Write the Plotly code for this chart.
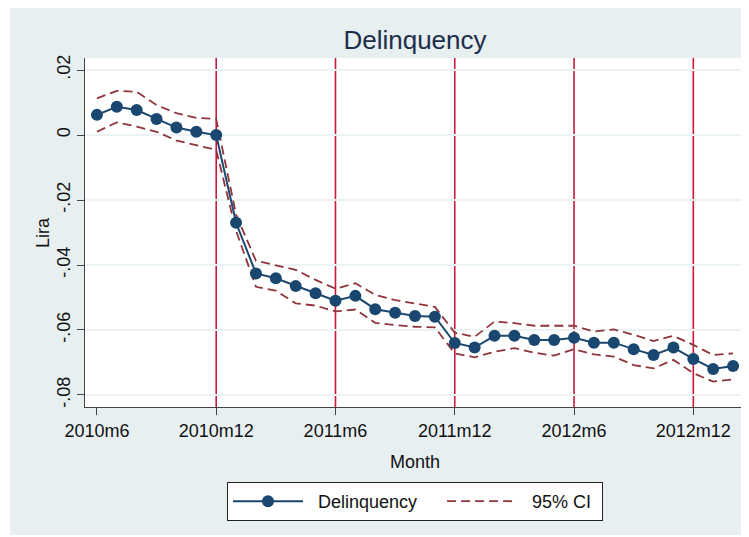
import plotly.graph_objects as go

# months 2010m6 .. 2013m2
months = [
    "2010m6", "2010m7", "2010m8", "2010m9", "2010m10", "2010m11", "2010m12",
    "2011m1", "2011m2", "2011m3", "2011m4", "2011m5", "2011m6", "2011m7",
    "2011m8", "2011m9", "2011m10", "2011m11", "2011m12", "2012m1", "2012m2",
    "2012m3", "2012m4", "2012m5", "2012m6", "2012m7", "2012m8", "2012m9",
    "2012m10", "2012m11", "2012m12", "2013m1", "2013m2",
]
estimate = [
    0.0062, 0.0087, 0.0077, 0.0049, 0.0023, 0.0010, 0.0000,
    -0.0270, -0.0426, -0.0441, -0.0465, -0.0487, -0.0510, -0.0495,
    -0.0536, -0.0547, -0.0557, -0.0559, -0.0640, -0.0654, -0.0618,
    -0.0618, -0.0631, -0.0631, -0.0624, -0.0639, -0.0639, -0.0659,
    -0.0677, -0.0654, -0.0689, -0.0720, -0.0711,
]
ci_upper = [
    0.0113, 0.0136, 0.0133, 0.0092, 0.0067, 0.0053, 0.0049,
    -0.0245, -0.0387, -0.0400, -0.0415, -0.0446, -0.0473, -0.0456,
    -0.0492, -0.0508, -0.0519, -0.0529, -0.0608, -0.0621, -0.0574,
    -0.0579, -0.0587, -0.0587, -0.0587, -0.0605, -0.0598, -0.0615,
    -0.0634, -0.0618, -0.0646, -0.0677, -0.0672,
]
ci_lower = [
    0.0010, 0.0039, 0.0026, 0.0010, -0.0017, -0.0031, -0.0046,
    -0.0295, -0.0467, -0.0479, -0.0518, -0.0525, -0.0543, -0.0537,
    -0.0578, -0.0585, -0.0590, -0.0592, -0.0672, -0.0684, -0.0667,
    -0.0656, -0.0670, -0.0679, -0.0659, -0.0675, -0.0682, -0.0708,
    -0.0718, -0.0692, -0.0733, -0.0759, -0.0752,
]
x_ticks = ["2010m6", "2010m12", "2011m6", "2011m12", "2012m6", "2012m12"]
y_ticks = [0.02, 0.0, -0.02, -0.04, -0.06, -0.08]
y_labels = [".02", "0", "-.02", "-.04", "-.06", "-.08"]
event_months = ["2010m12", "2011m6", "2011m12", "2012m6", "2012m12"]

NAVY = "#1a476f"
MAROON = "#90353b"
RED = "#c8193c"
BG = "#e8eff1"
FONT = "Liberation Sans, Arial, sans-serif"
NB = "\u00a0"

# plot area in figure pixels (page body adds an 8px margin)
L, R, T, B = 77, 737, 50, 399
W, H = 749, 537
PW, PH = R - L, B - T
CX = (407 - L) / PW  # horizontal centre of the graph region


def px(v):
    return (v - L) / PW


def py(v):
    return (B - v) / PH


x = list(range(len(months)))
tick_pos = [months.index(m) for m in x_ticks]

fig = go.Figure()
fig.add_trace(go.Scatter(x=x, y=ci_upper, mode="lines", name=NB * 2 + "95% CI" + NB,
                         legendgroup="ci",
                         line={"color": MAROON, "width": 1.8, "dash": "9px,5px"}))
fig.add_trace(go.Scatter(x=x, y=ci_lower, mode="lines", name="95% CI",
                         legendgroup="ci", showlegend=False,
                         line={"color": MAROON, "width": 1.8, "dash": "9px,5px"}))
fig.add_trace(go.Scatter(x=x, y=estimate, mode="lines+markers",
                         name=NB * 2 + "Delinquency" + NB * 4,
                         line={"color": NAVY, "width": 2},
                         marker={"color": NAVY, "size": 12}))

for m in event_months:
    fig.add_vline(x=months.index(m), line={"color": RED, "width": 1.6}, layer="below")
fig.add_hline(y=0, line={"color": RED, "width": 1.6}, layer="below")

# white frame around the grey graph region
for x0, x1, y0, y1 in [(0, 2, 0, H), (0, W, 527, H)]:
    fig.add_shape(type="rect", xref="paper", yref="paper",
                  x0=px(x0), x1=px(x1), y0=py(y1), y1=py(y0),
                  fillcolor="white", line={"width": 0}, layer="above")

fig.add_annotation(text="Month", x=CX, y=py(454), xref="paper", yref="paper",
                   showarrow=False, font={"size": 18}, yanchor="middle")
fig.add_annotation(text="Lira", x=px(35), y=py(225), xref="paper", yref="paper",
                   showarrow=False, font={"size": 18}, textangle=-90,
                   xanchor="center", yanchor="middle")

fig.update_layout(
    width=W, height=H,
    margin={"l": L, "r": W - R, "t": T, "b": H - B},
    paper_bgcolor=BG, plot_bgcolor="white",
    font={"family": FONT, "size": 18, "color": "#111111"},
    title={"text": "Delinquency", "x": CX, "xref": "paper",
           "xanchor": "center", "y": 1 - 32 / H, "yanchor": "middle",
           "font": {"size": 26, "color": "#1c2e4a"}},
    showlegend=True,
    legend={"orientation": "h", "x": CX, "xanchor": "center",
            "y": py(474), "yanchor": "top", "traceorder": "reversed",
            "bgcolor": "white", "bordercolor": "#222222", "borderwidth": 1,
            "itemwidth": 70, "font": {"size": 18}},
    xaxis={"range": [-0.6, len(months) - 0.4], "tickvals": tick_pos,
           "ticktext": x_ticks, "showgrid": False, "zeroline": False,
           "showline": True, "linecolor": "#444444", "linewidth": 1,
           "ticks": "outside", "ticklen": 7, "tickcolor": "#444444"},
    yaxis={"range": [-0.0837, 0.0237], "tickvals": y_ticks, "ticktext": y_labels,
           "tickangle": -90, "showgrid": True, "gridcolor": "#eaf2f3",
           "gridwidth": 1.5, "zeroline": False,
           "showline": True, "linecolor": "#444444", "linewidth": 1,
           "ticks": "outside", "ticklen": 7, "tickcolor": "#444444"},
)

fig.write_html("out.html")
